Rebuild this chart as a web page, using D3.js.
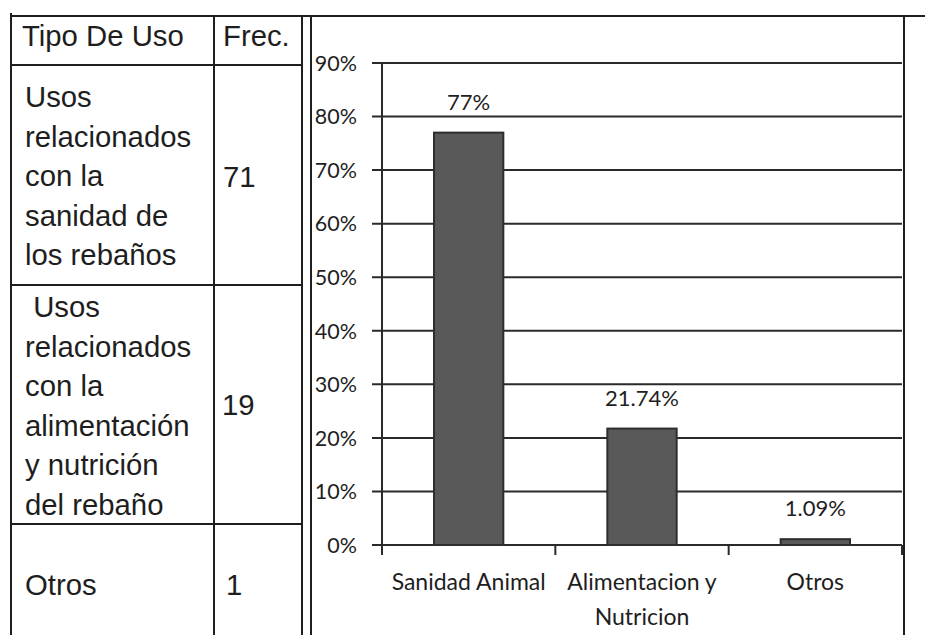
<!DOCTYPE html>
<html>
<head>
<meta charset="utf-8">
<script src="https://cdn.jsdelivr.net/npm/d3@7"></script>
<style>
  html, body { margin: 0; padding: 0; background: #fff; }
  svg { display: block; }
</style>
</head>
<body>
<svg id="chart" width="925" height="635"></svg>
<script>
// Table: usage type and frequency
const tableHeader = ["Tipo De Uso", "Frec."];
const tableTipos = [
  ["Usos", "relacionados", "con la", "sanidad de", "los rebaños"],
  [" Usos", "relacionados", "con la", "alimentación", "y nutrición", "del rebaño"],
  ["Otros"]
];
const tableFrec = ["71", "19", "1"];

// Bar chart: share of each usage type
const categories = [["Sanidad Animal"], ["Alimentacion y", "Nutricion"], ["Otros"]];
const values = [77, 21.74, 1.09];
const valueLabels = ["77%", "21.74%", "1.09%"];
const yTicks = [0, 10, 20, 30, 40, 50, 60, 70, 80, 90];

const svg = d3.select("#chart");
const ink = "#1e1e1e";

// ---------- table ----------
const tbl = svg.append("g");
const lineW = 2;
const colX = [11, 214, 302];
const rowY = [16, 65, 285, 524, 635];

function hline(x1, x2, yy) {
  tbl.append("line").attr("x1", x1).attr("x2", x2).attr("y1", yy).attr("y2", yy)
    .attr("stroke", ink).attr("stroke-width", lineW);
}
function vline(xx, y1, y2) {
  tbl.append("line").attr("x1", xx).attr("x2", xx).attr("y1", y1).attr("y2", y2)
    .attr("stroke", ink).attr("stroke-width", lineW);
}
hline(colX[0], 925, rowY[0]);
rowY.slice(1, 4).forEach(yy => hline(colX[0], colX[2], yy));
vline(colX[0], 13, 635);
vline(colX[1], 16, 635);
vline(colX[2], 16, 635);
vline(311, 16, 635);
vline(904, 16, 635);

const tFont = "'Liberation Sans', Arial, sans-serif";
const tSize = 29.3;
tbl.append("text").attr("x", 22).attr("y", 46).text(tableHeader[0])
  .attr("font-family", tFont).attr("font-size", tSize).attr("fill", ink);
tbl.append("text").attr("x", 223).attr("y", 46).text(tableHeader[1])
  .attr("font-family", tFont).attr("font-size", tSize).attr("fill", ink);

const firstBase = [107, 317, 595];
const frecBase = [187, 415, 595];
const frecX = [223, 222, 226];
const lineStep = 39.6;
tableTipos.forEach((lines, r) => {
  const t = tbl.append("text").attr("font-family", tFont).attr("font-size", tSize)
    .attr("fill", ink).attr("xml:space", "preserve");
  lines.forEach((ln, i) => {
    t.append("tspan").attr("x", 25).attr("y", firstBase[r] + i * lineStep).text(ln);
  });
  tbl.append("text").attr("x", frecX[r]).attr("y", frecBase[r]).text(tableFrec[r])
    .attr("font-family", tFont).attr("font-size", tSize).attr("fill", ink);
});

// ---------- bar chart ----------
const cFont = "Lato, 'Open Sans', sans-serif";
const plot = { left: 382, right: 902, top: 63, bottom: 545 };

const x = d3.scaleBand()
  .domain(d3.range(categories.length))
  .range([plot.left, plot.right])
  .paddingInner(0.6)
  .paddingOuter(0.3);

const y = d3.scaleLinear().domain([0, 90]).range([plot.bottom, plot.top]);

const g = svg.append("g");

// horizontal gridlines with outward tick
g.selectAll("line.grid").data(yTicks).join("line")
  .attr("class", "grid")
  .attr("x1", plot.left - 10).attr("x2", plot.right)
  .attr("y1", d => y(d)).attr("y2", d => y(d))
  .attr("stroke", "#2a2a2a").attr("stroke-width", 2);

// y tick labels
g.selectAll("text.ytick").data(yTicks).join("text")
  .attr("class", "ytick")
  .attr("x", plot.left - 25).attr("y", d => y(d)).attr("dy", "0.36em")
  .attr("text-anchor", "end")
  .attr("font-family", cFont).attr("font-size", 21.5).attr("fill", ink)
  .text(d => d + "%");

// y axis line
g.append("line").attr("x1", plot.left).attr("x2", plot.left)
  .attr("y1", y(90)).attr("y2", plot.bottom + 10)
  .attr("stroke", "#2a2a2a").attr("stroke-width", 2);

// category boundary ticks on x axis
g.selectAll("line.xtick").data(d3.range(1, categories.length + 1)).join("line")
  .attr("class", "xtick")
  .attr("x1", i => plot.left + i * x.step()).attr("x2", i => plot.left + i * x.step())
  .attr("y1", plot.bottom).attr("y2", plot.bottom + 10)
  .attr("stroke", "#2a2a2a").attr("stroke-width", 2);

// bars
g.selectAll("rect.bar").data(values).join("rect")
  .attr("class", "bar")
  .attr("x", (d, i) => x(i)).attr("width", x.bandwidth())
  .attr("y", d => y(d)).attr("height", d => y(0) - y(d))
  .attr("fill", "#595959").attr("stroke", "#2e2e2e").attr("stroke-width", 2);

// value labels
g.selectAll("text.val").data(values).join("text")
  .attr("class", "val")
  .attr("x", (d, i) => x(i) + x.bandwidth() / 2)
  .attr("y", d => y(d) - 23)
  .attr("text-anchor", "middle")
  .attr("font-family", cFont).attr("font-size", 22).attr("fill", ink)
  .text((d, i) => valueLabels[i]);

// category labels
categories.forEach((lines, i) => {
  const t = g.append("text").attr("text-anchor", "middle")
    .attr("font-family", cFont).attr("font-size", 23).attr("fill", ink);
  lines.forEach((ln, k) => {
    t.append("tspan").attr("x", x(i) + x.bandwidth() / 2)
      .attr("y", 590 + k * 35).text(ln);
  });
});
</script>
</body>
</html>
